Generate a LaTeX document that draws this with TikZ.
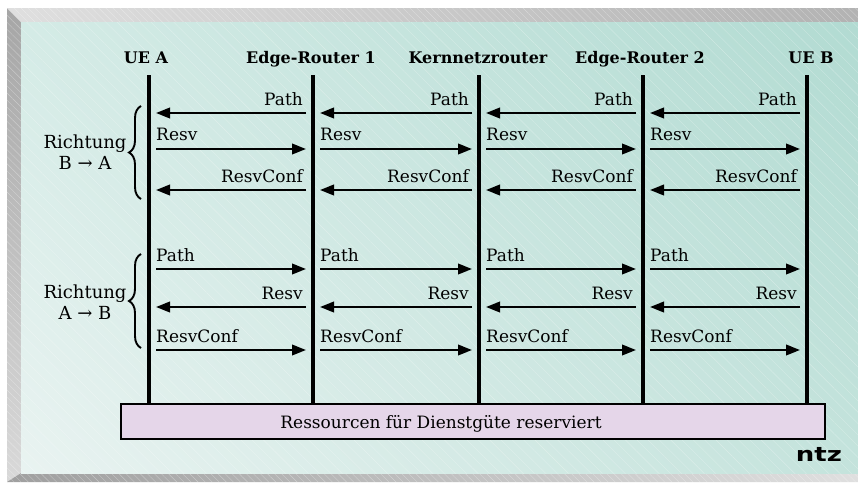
\documentclass[tikz,border=0pt]{standalone}
\usepackage{fontspec}
\setmainfont{DejaVu Serif}
\newfontfamily\logofont{DejaVu Sans}
\usetikzlibrary{arrows.meta,decorations.pathreplacing,patterns.meta,shadings}
\definecolor{panelTL}{HTML}{D4EBE6}
\definecolor{panelTR}{HTML}{B2DBD2}
\definecolor{panelBL}{HTML}{E9F3F1}
\definecolor{panelBR}{HTML}{C4E3DC}
\definecolor{boxfill}{HTML}{E5D6E9}
\tikzset{
  life/.style={line width=3.3pt},
  msg/.style={line width=2.2pt,-{Triangle[length=14pt,width=10.5pt]}},
  hdr/.style={font=\fontsize{16}{18}\selectfont\bfseries,anchor=base,inner sep=0pt},
  lbl/.style={font=\fontsize{17}{19}\selectfont,inner sep=0pt},
  lblR/.style={lbl,anchor=base west},
  lblL/.style={lbl,anchor=base east},
  brc/.style={line width=1.9pt,decorate,decoration={brace,amplitude=12pt,aspect=0.5}},
  dirlbl/.style={font=\fontsize{18}{20.5}\selectfont,align=center,inner sep=0pt},
}
\begin{document}
\begin{tikzpicture}[x=1pt,y=-1pt]
\useasboundingbox (0,0) rectangle (858,482);
% bevel frame
\shade[left color=gray!25,right color=gray!60] (7,8) -- (858,8) -- (858,22) -- (21,22) -- cycle;
\shade[top color=gray!70,bottom color=gray!30] (7,8) -- (21,22) -- (21,473) -- (7,482) -- cycle;
\shade[left color=gray!75,right color=gray!25] (7,482) -- (21,473) -- (858,473) -- (858,482) -- cycle;
\fill[pattern={Lines[angle=-45,distance=5pt,line width=0.4pt]},pattern color=white,opacity=0.35]
  (7,8) -- (858,8) -- (858,22) -- (21,22) -- (21,473) -- (858,473) -- (858,482) -- (7,482) -- cycle;
% panel
\shade[upper left=panelTL,upper right=panelTR,lower left=panelBL,lower right=panelBR] (21,22) rectangle (858,473);
\fill[pattern={Lines[angle=-45,distance=8pt,line width=0.4pt]},pattern color=white,opacity=0.3] (21,22) rectangle (858,473);

% headers
\node[hdr] (hA) at (146,63) {UE A};
\node[hdr] (h1) at (311,63) {Edge-Router 1};
\node[hdr] (hK) at (478,63) {Kernnetzrouter};
\node[hdr] (h2) at (640,63) {Edge-Router 2};
\node[hdr] (hB) at (811,63) {UE B};

% resource box
\node[draw,line width=1.5pt,fill=boxfill,minimum width=704pt,minimum height=35pt,inner sep=0pt] (res) at (473,421.5) {};
\node[lbl,anchor=base] (restext) at (441,428) {Ressourcen für Dienstgüte reserviert};

% lifelines
\foreach \n/\x in {A/149,B1/313,K/479,B2/643,B/807}{
  \coordinate (t\n) at (\x,75);
  \draw[life] (t\n) -- (t\n |- res.north);
}

% message rows
\foreach \n/\x in {A/149,B1/313,K/479,B2/643,B/807}{
  \foreach \r/\y in {1/113,2/149,3/190,4/269,5/307,6/350}{
    \coordinate (\n r\r) at (\x,\y);
  }
}
\foreach \a/\b in {A/B1,B1/K,K/B2,B2/B}{
  % B -> A direction
  \draw[msg] ([xshift=-7pt]\b r1) -- ([xshift=7pt]\a r1);
  \node[lblL] at ([xshift=-10pt,yshift=8pt]\b r1) {Path};
  \draw[msg] ([xshift=7pt]\a r2) -- ([xshift=-7pt]\b r2);
  \node[lblR] at ([xshift=7pt,yshift=9pt]\a r2) {Resv};
  \draw[msg] ([xshift=-7pt]\b r3) -- ([xshift=7pt]\a r3);
  \node[lblL] at ([xshift=-10pt,yshift=8pt]\b r3) {ResvConf};
  % A -> B direction
  \draw[msg] ([xshift=7pt]\a r4) -- ([xshift=-7pt]\b r4);
  \node[lblR] at ([xshift=7pt,yshift=8pt]\a r4) {Path};
  \draw[msg] ([xshift=-7pt]\b r5) -- ([xshift=7pt]\a r5);
  \node[lblL] at ([xshift=-10pt,yshift=8pt]\b r5) {Resv};
  \draw[msg] ([xshift=7pt]\a r6) -- ([xshift=-7pt]\b r6);
  \node[lblR] at ([xshift=7pt,yshift=8pt]\a r6) {ResvConf};
}

% braces
\coordinate (b1s) at (141,199);
\coordinate (b1e) at (141,106);
\coordinate (b2s) at (141,348);
\coordinate (b2e) at (141,254);
\draw[brc] (b1s) -- (b1e);
\draw[brc] (b2s) -- (b2e);
\node[dirlbl] (d1) at (85,152) {Richtung\\B → A};
\node[dirlbl] (d2) at (85,302) {Richtung\\A → B};

% logo
\node[font=\logofont\fontsize{20}{20}\selectfont\bfseries,xscale=1.3,inner sep=0pt,anchor=base] (logo) at (819,461) {ntz};
\end{tikzpicture}
\end{document}
